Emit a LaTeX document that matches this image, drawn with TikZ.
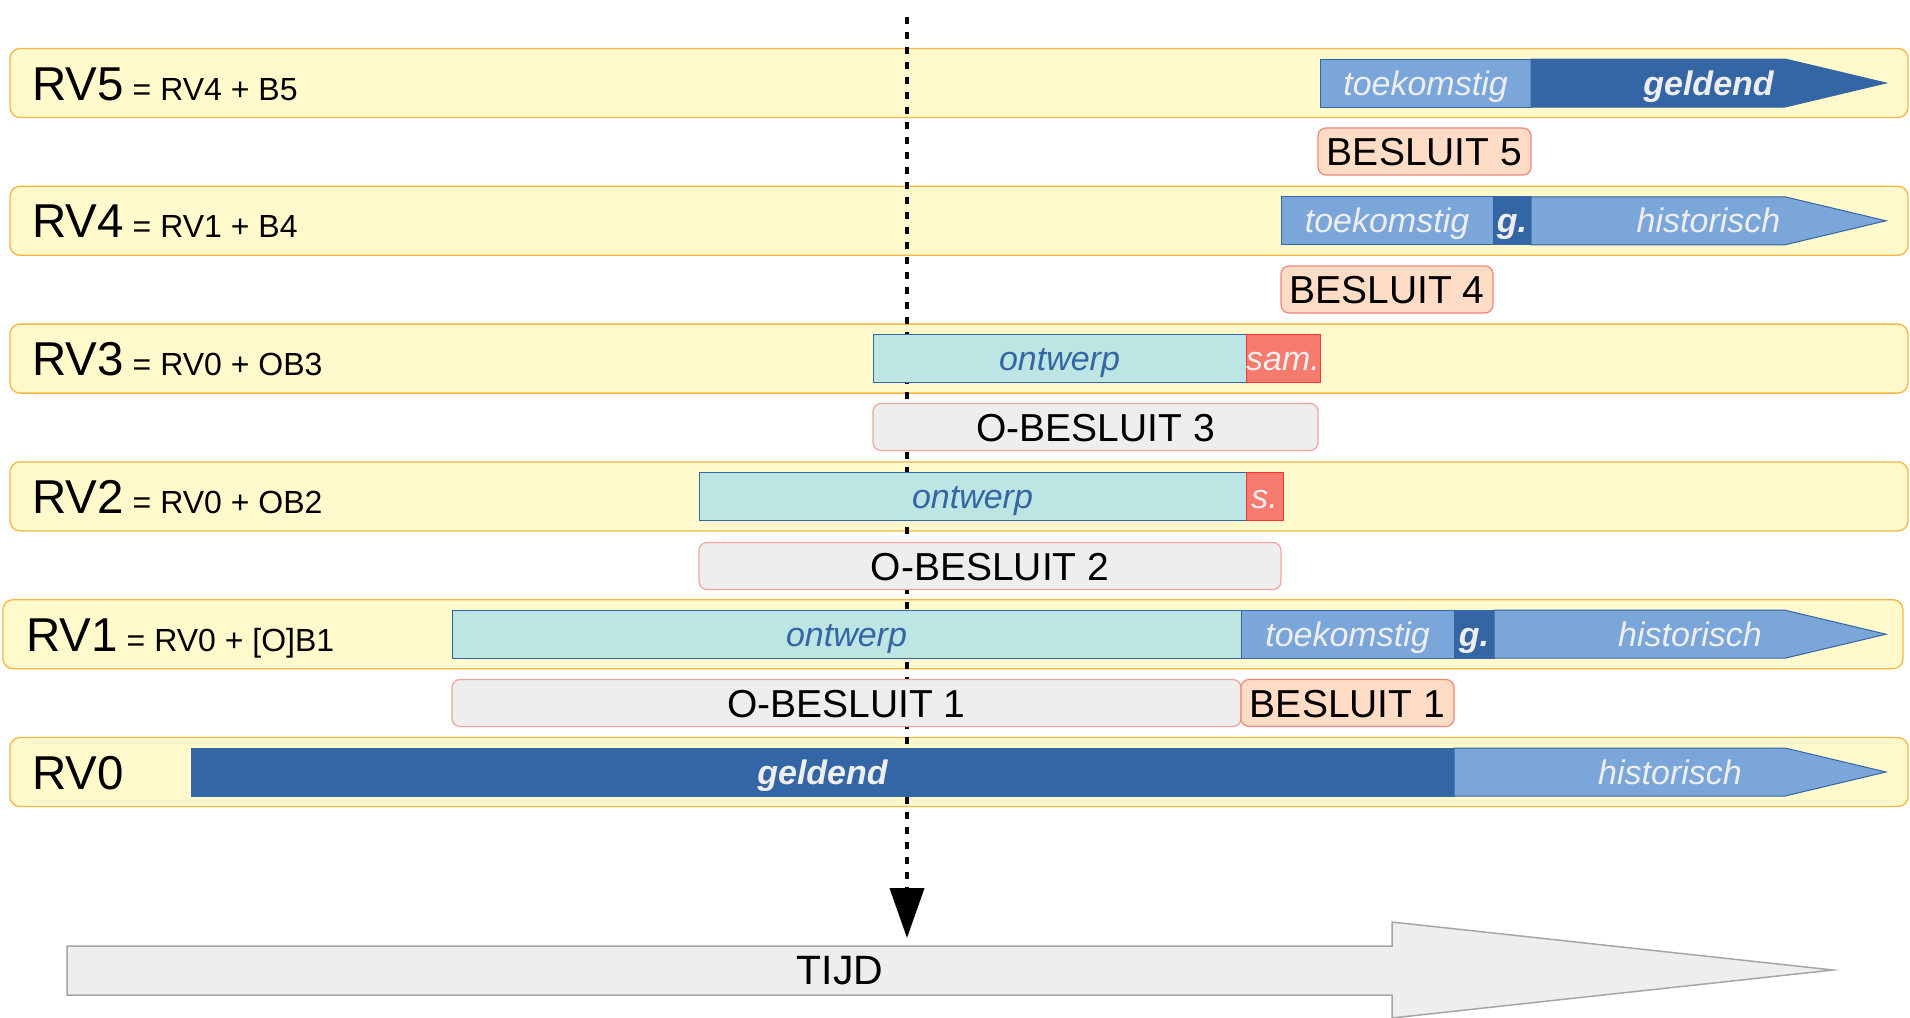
\documentclass[tikz,border=0pt]{standalone}
\usepackage{fontspec}
\setmainfont{Liberation Sans}
\usetikzlibrary{arrows.meta}
\definecolor{bandfill}{HTML}{FFF9CC}
\definecolor{bandline}{HTML}{F9B642}
\definecolor{dblue}{HTML}{3465A4}
\definecolor{lblue}{HTML}{7BA6D9}
\definecolor{barfg}{HTML}{EEEEEE}
\definecolor{ontfill}{HTML}{BDE5E3}
\definecolor{samfill}{HTML}{F47B6E}
\definecolor{samline}{HTML}{FF3333}
\definecolor{obfill}{HTML}{EEEEEE}
\definecolor{obline}{HTML}{F4A39A}
\definecolor{bfill}{HTML}{FFDCC6}
\definecolor{bline}{HTML}{F0867A}
\definecolor{tijdfill}{HTML}{EEEEEE}
\definecolor{tijdline}{HTML}{A6A6A6}
\newcommand{\fbig}{\fontsize{47.5}{54}\selectfont}
\newcommand{\fsmall}{\fontsize{32}{37}\selectfont}
\newcommand{\fbar}{\fontsize{34}{40}\selectfont}
\newcommand{\fbesl}{\fontsize{39}{45}\selectfont}
\newcommand{\ftijd}{\fontsize{41}{47}\selectfont}
\newcommand{\rvgap}{\hspace{9pt}}
\newcommand{\arrowbar}[3]{%
  \filldraw[arrbar, fill=#3] (#1,#2-24) -- (1785,#2-24) -- (1886,#2) -- (1785,#2+24) -- (#1,#2+24) -- cycle;}
\tikzset{
  rvband/.style={draw=bandline, fill=bandfill, line width=1.3pt, rounded corners=10pt, minimum height=69pt, inner sep=0pt},
  barcell/.style={rectangle, inner sep=0pt, minimum height=48pt, line width=1pt, font=\fbar\itshape, text height=24.3pt, text depth=0pt},
  tkcell/.style={barcell, fill=lblue, draw=dblue, text=barfg},
  gdcell/.style={barcell, fill=dblue, draw=dblue, text=barfg, font=\fbar\bfseries\itshape},
  ontcell/.style={barcell, fill=ontfill, draw=dblue, text=dblue},
  samcell/.style={barcell, fill=samfill, draw=samline, text=barfg},
  beslbox/.style={rectangle, rounded corners=8pt, inner sep=0pt, minimum height=47pt, line width=1.2pt, font=\fbesl, text height=28pt, text depth=0pt},
  obox/.style={beslbox, fill=obfill, draw=obline},
  bbox/.style={beslbox, fill=bfill, draw=bline},
  arrbar/.style={line width=1pt, draw=dblue},
  lbl/.style={anchor=base west, inner sep=0pt},
  bartext/.style={inner sep=0pt, font=\fbar\itshape, text=barfg, text height=24.3pt, text depth=0pt},
}
\begin{document}
\begin{tikzpicture}[x=1pt, y=-1pt]
\useasboundingbox (0,0) rectangle (1910,1017);
% bands
\node[rvband, minimum width=1898pt] (b5) at (959,83) {};
\node[rvband, minimum width=1898pt] (b4) at (959,220.8) {};
\node[rvband, minimum width=1898pt] (b3) at (959,358.6) {};
\node[rvband, minimum width=1898pt] (b2) at (959,496.4) {};
\node[rvband, minimum width=1900pt] (b1) at (953,634.2) {};
\node[rvband, minimum width=1898pt] (b0) at (959,772) {};
% labels
\node[lbl] (l5) at (32,100) {\fbig RV5\rvgap\fsmall = RV4 + B5};
\node[lbl] (l4) at (32,237.8) {\fbig RV4\rvgap\fsmall = RV1 + B4};
\node[lbl] (l3) at (32,375.6) {\fbig RV3\rvgap\fsmall = RV0 + OB3};
\node[lbl] (l2) at (32,513.4) {\fbig RV2\rvgap\fsmall = RV0 + OB2};
\node[lbl] (l1) at (26,651.2) {\fbig RV1\rvgap\fsmall = RV0 + [O]B1};
\node[lbl] (l0) at (32,789) {\fbig RV0};
% time line
\coordinate (ttop) at (907,17);
\coordinate (tbot) at (907,938);
\draw[line width=4pt, dash pattern=on 7pt off 8pt, -{Triangle[length=50pt,width=34pt]}] (ttop) -- (tbot);
% RV5
\node[tkcell, minimum width=211pt] (t5) at (1425.5,83) {toekomstig};
\arrowbar{1531}{83}{dblue}
\node[bartext, font=\fbar\bfseries\itshape] (g5) at (1708.5,83) {geldend};
\node[bbox, minimum width=213pt] (B5) at (1424.5,151.5) {BESLUIT 5};
% RV4
\node[tkcell, minimum width=212pt] (t4) at (1387,220.8) {toekomstig};
\node[gdcell, minimum width=38pt] (g4) at (1512,220.8) {g.};
\arrowbar{1531}{220.8}{lblue}
\node[bartext] (h4) at (1708.5,220.8) {historisch};
\node[bbox, minimum width=212pt] (B4) at (1387,289.5) {BESLUIT 4};
% RV3
\node[ontcell, minimum width=373pt] (o3) at (1059.5,358.6) {ontwerp};
\node[samcell, minimum width=74pt] (s3) at (1283,358.6) {sam.};
\node[obox, minimum width=445pt] (OB3) at (1095.5,427) {O-BESLUIT 3};
% RV2
\node[ontcell, minimum width=547pt] (o2) at (972.5,496.4) {ontwerp};
\node[samcell, minimum width=37pt] (s2) at (1264.5,496.4) {s.};
\node[obox, minimum width=582pt] (OB2) at (990,566) {O-BESLUIT 2};
% RV1
\node[ontcell, minimum width=789pt] (o1) at (846.5,634.2) {ontwerp};
\node[tkcell, minimum width=213pt] (t1) at (1347.5,634.2) {toekomstig};
\node[gdcell, minimum width=40pt] (g1) at (1474,634.2) {g.};
\arrowbar{1494}{634.2}{lblue}
\node[bartext] (h1) at (1690,634.2) {historisch};
\node[obox, minimum width=789pt] (OB1) at (846.5,703) {O-BESLUIT 1};
\node[bbox, minimum width=213pt] (B1) at (1347.5,703) {BESLUIT 1};
% RV0
\node[gdcell, minimum width=1263pt] (g0) at (822.5,772) {geldend};
\arrowbar{1454}{772}{lblue}
\node[bartext] (h0) at (1670,772) {historisch};
% TIJD arrow
\filldraw[fill=tijdfill, draw=tijdline, line width=1.5pt] (67,946) -- (1392,946) -- (1392,922) -- (1833,970) -- (1392,1018) -- (1392,995) -- (67,995) -- cycle;
\node[inner sep=0pt, font=\ftijd, text height=29.4pt, text depth=0pt] (tijd) at (840,970) {TIJD};
\end{tikzpicture}
\end{document}
